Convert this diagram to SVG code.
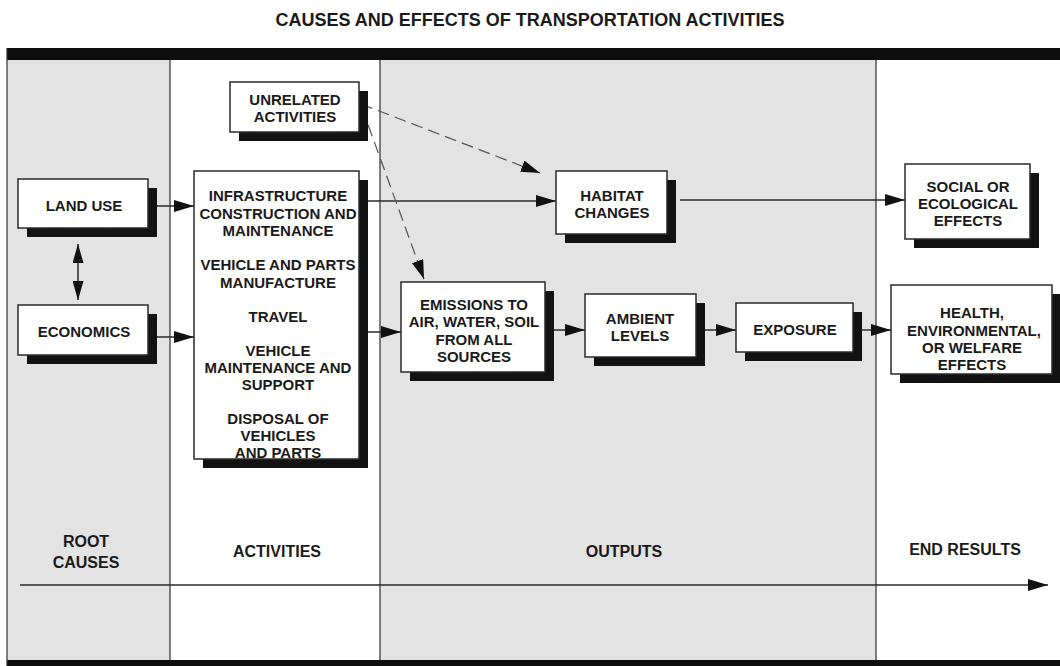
<svg xmlns="http://www.w3.org/2000/svg" width="1060" height="666" viewBox="0 0 1060 666">
<style>
  text { font-family: "Liberation Sans", Arial, sans-serif; font-weight: bold; fill: #1a1a1a; }
  .t { font-size: 15px; text-anchor: middle; }
  .lab { font-size: 16px; text-anchor: middle; }
  .title { font-size: 18px; text-anchor: middle; }
  .box { fill: #ffffff; stroke: #2a2a2a; stroke-width: 1.5; }
  .shadow { fill: #121212; }
  .col { fill: #e3e3e3; }
  .div { stroke: #2e2e2e; stroke-width: 1.2; fill: none; }
  .band { fill: #0e0e0e; }
  .conn { stroke: #2a2a2a; stroke-width: 1.5; fill: none; marker-end: url(#ah); }
  .dash { stroke: #555555; stroke-width: 1.2; fill: none; stroke-dasharray: 12 6; marker-end: url(#ahd); }
</style>
<defs>
  <marker id="ah" markerUnits="userSpaceOnUse" markerWidth="20" markerHeight="12" refX="20" refY="6" orient="auto">
    <path d="M0,0 L20,6 L0,12 Z" fill="#111111"/>
  </marker>
  <marker id="ahd" markerUnits="userSpaceOnUse" markerWidth="19" markerHeight="12" refX="19" refY="6" orient="auto">
    <path d="M0,0 L19,6 L0,12 Z" fill="#111111"/>
  </marker>
  <marker id="ahs" markerUnits="userSpaceOnUse" markerWidth="19" markerHeight="11" refX="19" refY="5.5" orient="auto-start-reverse">
    <path d="M0,0 L19,5.5 L0,11 Z" fill="#111111"/>
  </marker>
</defs>

<rect x="0" y="0" width="1060" height="666" fill="#ffffff"/>

<text class="title" x="530" y="26">CAUSES AND EFFECTS OF TRANSPORTATION ACTIVITIES</text>

<g id="columns">
  <rect class="col" x="7" y="59" width="163" height="602"/>
  <rect class="col" x="380" y="59" width="496" height="602"/>
  <rect class="band" x="7" y="48" width="1053" height="12"/>
  <rect class="band" x="7" y="660" width="1053" height="6"/>
  <line class="div" x1="7" y1="48" x2="7" y2="666"/>
  <line class="div" x1="170" y1="60" x2="170" y2="660"/>
  <line class="div" x1="380" y1="60" x2="380" y2="660"/>
  <line class="div" x1="876" y1="60" x2="876" y2="660"/>
  <text class="lab" x="86" y="547">ROOT</text>
  <text class="lab" x="86" y="568">CAUSES</text>
  <text class="lab" x="277" y="557">ACTIVITIES</text>
  <text class="lab" x="624" y="557">OUTPUTS</text>
  <text class="lab" x="965" y="555">END RESULTS</text>
</g>

<g id="connectors">
  <line class="conn" x1="156" y1="206" x2="194" y2="206"/>
  <line class="conn" x1="156" y1="337" x2="194" y2="337"/>
  <line x1="78" y1="244" x2="78" y2="300" stroke="#2a2a2a" stroke-width="1.5" marker-start="url(#ahs)" marker-end="url(#ahs)"/>
  <line class="conn" x1="368" y1="201" x2="556" y2="201"/>
  <line class="conn" x1="680" y1="200" x2="905" y2="200"/>
  <line class="conn" x1="368" y1="332" x2="401" y2="332"/>
  <line class="conn" x1="554" y1="330" x2="585" y2="330"/>
  <line class="conn" x1="705" y1="330" x2="736" y2="330"/>
  <line class="conn" x1="862" y1="330" x2="891" y2="330"/>
  <line class="dash" x1="361" y1="104" x2="540" y2="173"/>
  <line class="dash" x1="362" y1="108" x2="424" y2="279"/>
  <line x1="20" y1="585" x2="1048" y2="585" stroke="#2a2a2a" stroke-width="1.5" marker-end="url(#ah)"/>
</g>

<g id="unrelated">
  <rect class="shadow" x="239" y="91" width="129" height="50"/>
  <rect class="box" x="230" y="82" width="129" height="50"/>
  <text class="t" x="295" y="105">UNRELATED</text>
  <text class="t" x="295" y="122">ACTIVITIES</text>
</g>

<g id="landuse">
  <rect class="shadow" x="27" y="188" width="130" height="49"/>
  <rect class="box" x="18" y="179" width="130" height="49"/>
  <text class="t" x="84" y="211">LAND USE</text>
</g>

<g id="economics">
  <rect class="shadow" x="27" y="314" width="130" height="50"/>
  <rect class="box" x="18" y="305" width="130" height="50"/>
  <text class="t" x="84" y="337">ECONOMICS</text>
</g>

<g id="activities">
  <rect class="shadow" x="203" y="180" width="165" height="288"/>
  <rect class="box" x="194" y="171" width="165" height="288"/>
  <text class="t" x="278" y="201">INFRASTRUCTURE</text>
  <text class="t" x="278" y="219">CONSTRUCTION AND</text>
  <text class="t" x="278" y="236">MAINTENANCE</text>
  <text class="t" x="278" y="270">VEHICLE AND PARTS</text>
  <text class="t" x="278" y="288">MANUFACTURE</text>
  <text class="t" x="278" y="322">TRAVEL</text>
  <text class="t" x="278" y="356">VEHICLE</text>
  <text class="t" x="278" y="373">MAINTENANCE AND</text>
  <text class="t" x="278" y="390">SUPPORT</text>
  <text class="t" x="278" y="424">DISPOSAL OF</text>
  <text class="t" x="278" y="441">VEHICLES</text>
  <text class="t" x="278" y="458">AND PARTS</text>
</g>

<g id="habitat">
  <rect class="shadow" x="565" y="180" width="111" height="63"/>
  <rect class="box" x="556" y="171" width="111" height="63"/>
  <text class="t" x="612" y="201">HABITAT</text>
  <text class="t" x="612" y="218">CHANGES</text>
</g>

<g id="social">
  <rect class="shadow" x="914" y="173" width="125" height="75"/>
  <rect class="box" x="905" y="164" width="125" height="75"/>
  <text class="t" x="968" y="192">SOCIAL OR</text>
  <text class="t" x="968" y="209">ECOLOGICAL</text>
  <text class="t" x="968" y="226">EFFECTS</text>
</g>

<g id="emissions">
  <rect class="shadow" x="410" y="291" width="144" height="90"/>
  <rect class="box" x="401" y="282" width="144" height="90"/>
  <text class="t" x="474" y="310">EMISSIONS TO</text>
  <text class="t" x="474" y="327">AIR, WATER, SOIL</text>
  <text class="t" x="474" y="345">FROM ALL</text>
  <text class="t" x="474" y="362">SOURCES</text>
</g>

<g id="ambient">
  <rect class="shadow" x="594" y="303" width="111" height="63"/>
  <rect class="box" x="585" y="294" width="111" height="63"/>
  <text class="t" x="640" y="324">AMBIENT</text>
  <text class="t" x="640" y="341">LEVELS</text>
</g>

<g id="exposure">
  <rect class="shadow" x="745" y="312" width="117" height="49"/>
  <rect class="box" x="736" y="303" width="117" height="49"/>
  <text class="t" x="795" y="335">EXPOSURE</text>
</g>

<g id="health">
  <rect class="shadow" x="900" y="294" width="161" height="89"/>
  <rect class="box" x="891" y="285" width="161" height="89"/>
  <text class="t" x="972" y="318">HEALTH,</text>
  <text class="t" x="974" y="336">ENVIRONMENTAL,</text>
  <text class="t" x="972" y="353">OR WELFARE</text>
  <text class="t" x="972" y="370">EFFECTS</text>
</g>
</svg>
